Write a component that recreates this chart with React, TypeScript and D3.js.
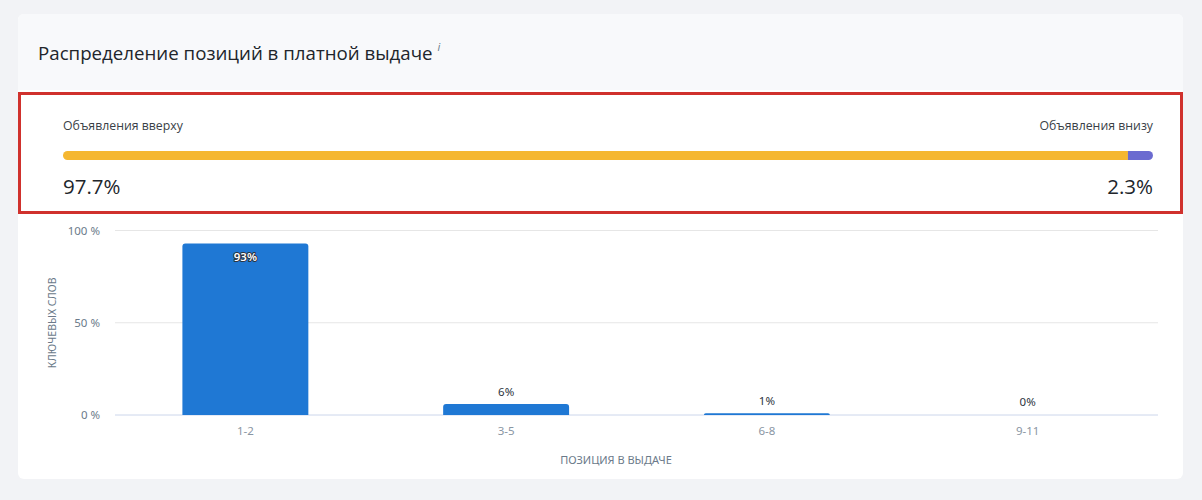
import React from "react";
import * as d3 from "d3";

const title = "Распределение позиций в платной выдаче";
const shareLabels = ["Объявления вверху", "Объявления внизу"];
const shareValues = [97.7, 2.3];
const shareColors = ["#f5b731", "#6b6bd0"];

const categories = ["1-2", "3-5", "6-8", "9-11"];
const values = [93, 6, 1, 0];
const yTicks = [0, 50, 100];
const xTitle = "ПОЗИЦИЯ В ВЫДАЧЕ";
const yTitle = "КЛЮЧЕВЫХ СЛОВ";

const W = 1202;
const H = 500;

export default function App() {
  const font = "'Noto Sans', 'Open Sans', sans-serif";
  // share bar
  const sx = d3.scaleLinear().domain([0, 100]).range([63, 1153]);
  const split = sx(shareValues[0]);

  // bar chart
  const x = d3
    .scaleBand<string>()
    .domain(categories)
    .range([115, 1158])
    .paddingInner(0.517)
    .paddingOuter(0.2585);
  const y = d3.scaleLinear().domain([0, 100]).range([415, 230.5]);

  const barPath = (x0: number, w: number, top: number, bottom: number) => {
    const h = bottom - top;
    const r = Math.min(3, h, w / 2);
    if (h <= 0) return "";
    return `M${x0},${bottom} L${x0},${top + r} Q${x0},${top} ${x0 + r},${top} L${x0 + w - r},${top} Q${x0 + w},${top} ${x0 + w},${top + r} L${x0 + w},${bottom} Z`;
  };

  return (
    <svg
      width={W}
      height={H}
      style={{ position: "absolute", left: 0, top: 0, display: "block" }}
      fontFamily={font}
    >
      <rect x={0} y={0} width={W} height={H} fill="#f2f3f6" />
      {/* card */}
      <rect x={18} y={14} width={1165} height={465} rx={6} fill="#ffffff" />
      <path d="M18,90 L18,20 Q18,14 24,14 L1177,14 Q1183,14 1183,20 L1183,90 Z" fill="#f8f9fb" />
      <text x={38} y={60} fontSize={18.7} fill="#21252b" fontFamily="'Open Sans', sans-serif">
        {title}
        <tspan dx={5} dy={-9} fontSize={11} fontStyle="italic" fill="#6b7a8a">i</tspan>
      </text>

      {/* highlight box */}
      <rect x={19.5} y={93.5} width={1162} height={119} fill="#ffffff" stroke="#d0312d" strokeWidth={3} />

      <text x={63} y={130} fontSize={12.3} fill="#3a3f47" fontFamily="'Open Sans', sans-serif">
        {shareLabels[0]}
      </text>
      <text x={1153} y={130} fontSize={12.3} fill="#3a3f47" textAnchor="end" fontFamily="'Open Sans', sans-serif">
        {shareLabels[1]}
      </text>
      <defs>
        <clipPath id="shareClip">
          <rect x={sx(0)} y={151} width={sx(100) - sx(0)} height={9} rx={4.5} />
        </clipPath>
      </defs>
      <g clipPath="url(#shareClip)">
        <rect x={sx(0)} y={151} width={split - sx(0)} height={9} fill={shareColors[0]} />
        <rect x={split} y={151} width={sx(100) - split} height={9} fill={shareColors[1]} />
      </g>
      <text x={63} y={194} fontSize={20.5} fill="#21252b" fontFamily="'Open Sans', sans-serif">
        {shareValues[0]}%
      </text>
      <text x={1153} y={194} fontSize={20.5} fill="#21252b" textAnchor="end" fontFamily="'Open Sans', sans-serif">
        {shareValues[1]}%
      </text>

      {/* grid */}
      {yTicks.map((t) => (
        <g key={t}>
          <line
            x1={115}
            x2={1158}
            y1={y(t)}
            y2={y(t)}
            stroke={t === 0 ? "#ccd6eb" : "#e6e6e6"}
            strokeWidth={1}
          />
          <text x={100} y={y(t) + 4} fontSize={11.5} fill="#6b7a8a" textAnchor="end">
            {t} %
          </text>
        </g>
      ))}
      <text
        transform={`translate(56,${(y(0) + y(100)) / 2}) rotate(-90)`}
        fontSize={10.5}
        fill="#6b7a8a"
        textAnchor="middle"
      >
        {yTitle}
      </text>

      {/* bars */}
      {categories.map((c, i) => {
        const bx = x(c)!;
        const bw = x.bandwidth();
        const top = y(values[i]);
        const cx = bx + bw / 2;
        const inside = values[i] > 50;
        return (
          <g key={c}>
            {values[i] > 0 && (
              <path d={barPath(bx, bw, Math.min(top, y(0) - 1), y(0))} fill="#1f78d4" />
            )}
            {inside ? (
              <text
                x={cx}
                y={top + 18}
                fontSize={11.5}
                fontWeight={600}
                textAnchor="middle"
                fill="#ffffff"
                stroke="#2c3440"
                strokeWidth={2}
                paintOrder="stroke"
                strokeLinejoin="round"
              >
                {values[i]}%
              </text>
            ) : (
              <text x={cx} y={Math.min(top, y(0) - 1) - 8} fontSize={11.5} textAnchor="middle" fill="#2c3440">
                {values[i]}%
              </text>
            )}
            <text x={cx} y={435} fontSize={11.5} textAnchor="middle" fill="#8a96a3">
              {c}
            </text>
          </g>
        );
      })}
      <text x={616} y={464} fontSize={11} textAnchor="middle" fill="#6b7a8a">
        {xTitle}
      </text>
    </svg>
  );
}
